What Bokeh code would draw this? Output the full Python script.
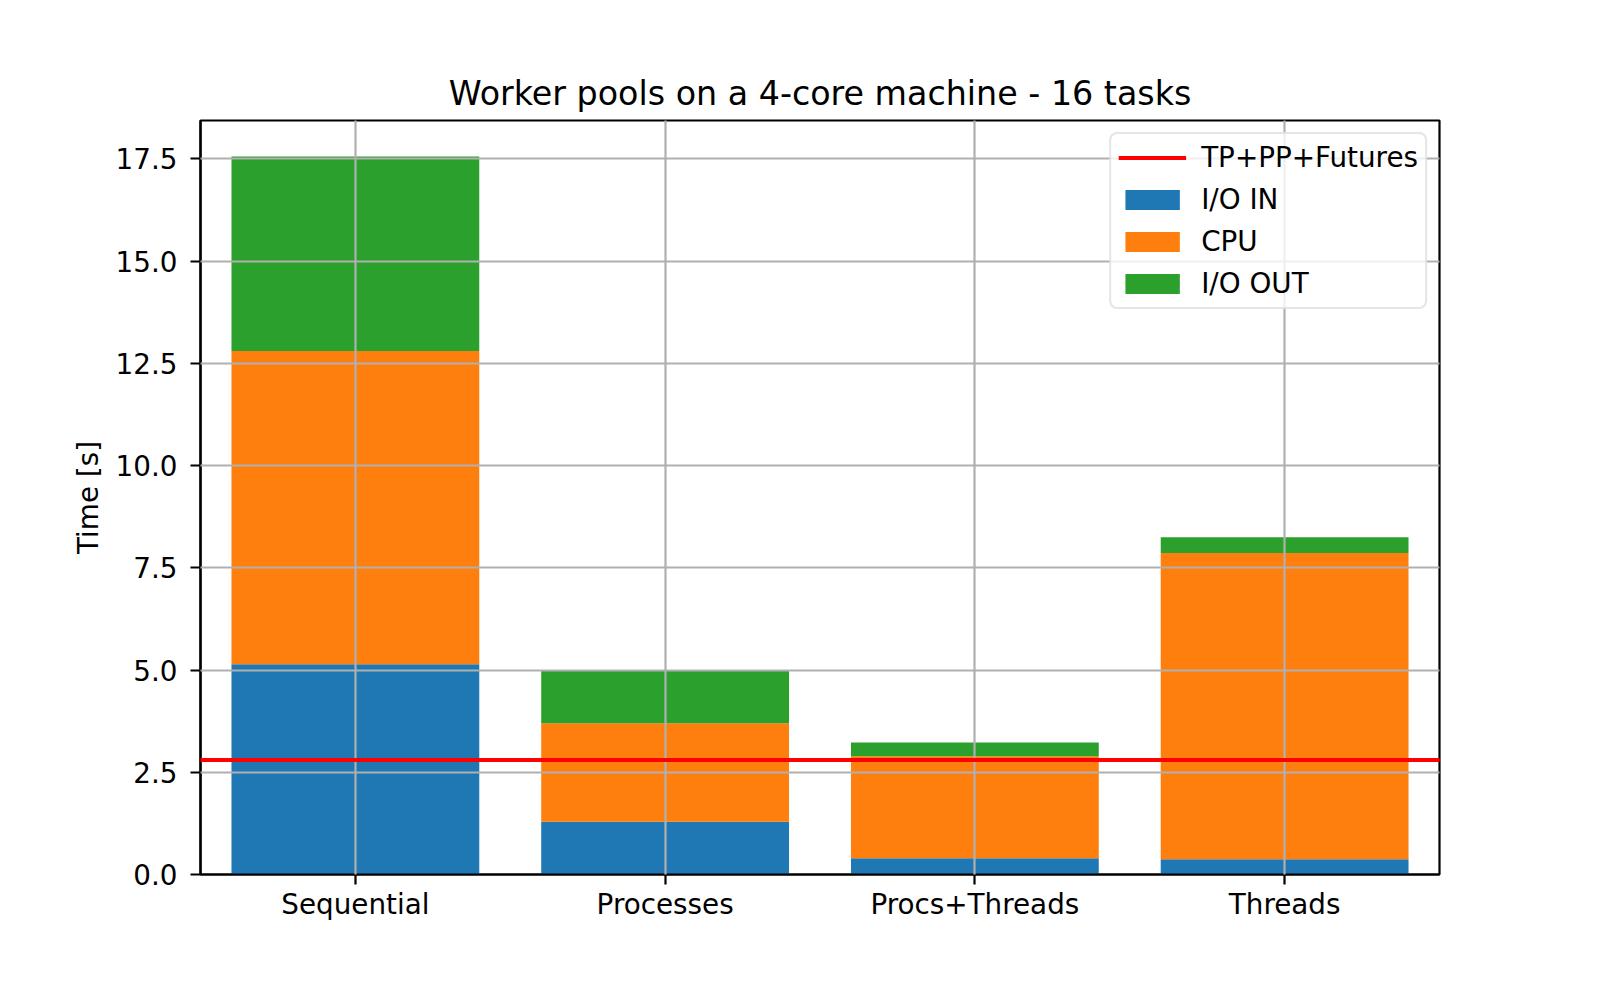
import numpy as np
from bokeh.plotting import figure
from bokeh.models import (Range1d, FixedTicker, NumeralTickFormatter, Legend, LegendItem)
from bokeh.embed import file_html
from bokeh.resources import INLINE

categories = ["Sequential", "Processes", "Procs+Threads", "Threads"]
io_in = [5.14, 1.29, 0.40, 0.37]
cpu = [7.66, 2.41, 2.49, 7.49]
io_out = [4.76, 1.28, 0.34, 0.39]
futures_time = 2.80
y_ticks = [0.0, 2.5, 5.0, 7.5, 10.0, 12.5, 15.0, 17.5]

FONT = "DejaVu Sans"
TICK_PX = "27.8px"

x = np.arange(len(categories))
b1 = np.zeros(len(categories))
t1 = b1 + np.array(io_in)
t2 = t1 + np.array(cpu)
t3 = t2 + np.array(io_out)
ymax = t3.max() * 1.05

W, H = 1580, 980
p = figure(width=W, height=H, output_backend="svg", toolbar_location=None,
           x_range=Range1d(-0.5, len(categories) - 0.5), y_range=Range1d(0, ymax),
           min_border_left=200, min_border_right=W - 1439,
           min_border_top=120, min_border_bottom=H - 874)

p.title.text = "Worker pools on a 4-core machine - 16 tasks"
p.title.text_font = FONT
p.title.text_font_size = "33.3px"
p.title.text_font_style = "normal"
p.title.align = "center"
p.title.text_color = "black"
p.title.standoff = 16

r_in = p.vbar(x=x, width=0.8, bottom=b1, top=t1, fill_color="#1f77b4", line_color=None)
r_cpu = p.vbar(x=x, width=0.8, bottom=t1, top=t2, fill_color="#ff7f0e", line_color=None)
r_out = p.vbar(x=x, width=0.8, bottom=t2, top=t3, fill_color="#2ca02c", line_color=None)
r_line = p.line(x=[-0.5, len(categories) - 0.5], y=[futures_time, futures_time],
                line_color="red", line_width=4.2, level="annotation")

for g in (p.xgrid, p.ygrid):
    g.grid_line_color = "#b0b0b0"
    g.grid_line_width = 2.2
    g.level = "guide"

p.xaxis.ticker = FixedTicker(ticks=list(x))
p.xaxis.major_label_overrides = {int(i): c for i, c in zip(x, categories)}
p.yaxis.ticker = FixedTicker(ticks=y_ticks)
p.yaxis.formatter = NumeralTickFormatter(format="0.0")
p.yaxis.axis_label = "Time [s]"
p.yaxis.axis_label_text_font = FONT
p.yaxis.axis_label_text_font_size = TICK_PX
p.yaxis.axis_label_text_font_style = "normal"
p.yaxis.axis_label_text_color = "black"
p.yaxis.axis_label_standoff = 8

for ax in (p.xaxis, p.yaxis):
    ax.major_label_text_font = FONT
    ax.major_label_text_font_size = TICK_PX
    ax.major_label_text_color = "black"
    ax.major_tick_in = 0
    ax.major_tick_out = 10
    ax.major_tick_line_width = 2.2
    ax.minor_tick_line_color = None
    ax.axis_line_width = 2.2
    ax.axis_line_color = "black"
p.xaxis.major_label_standoff = 3
p.yaxis.major_label_standoff = 13

p.outline_line_color = "black"
p.outline_line_width = 2.2
p.outline_line_alpha = 1.0

legend = Legend(items=[
    LegendItem(label="TP+PP+Futures", renderers=[r_line]),
    LegendItem(label="I/O IN", renderers=[r_in]),
    LegendItem(label="CPU", renderers=[r_cpu]),
    LegendItem(label="I/O OUT", renderers=[r_out]),
], location="top_right", margin=12)
legend.label_text_font = FONT
legend.label_text_font_size = TICK_PX
legend.label_text_color = "black"
legend.label_height = 33
legend.glyph_height = 25
legend.glyph_width = 68
legend.label_standoff = 15
legend.spacing = 9
legend.padding = 7
legend.border_line_color = "#cccccc"
legend.border_line_width = 2
legend.border_radius = 8
legend.background_fill_alpha = 0.8
p.add_layout(legend, "center")

open("out.html", "w").write(file_html(p, INLINE))
